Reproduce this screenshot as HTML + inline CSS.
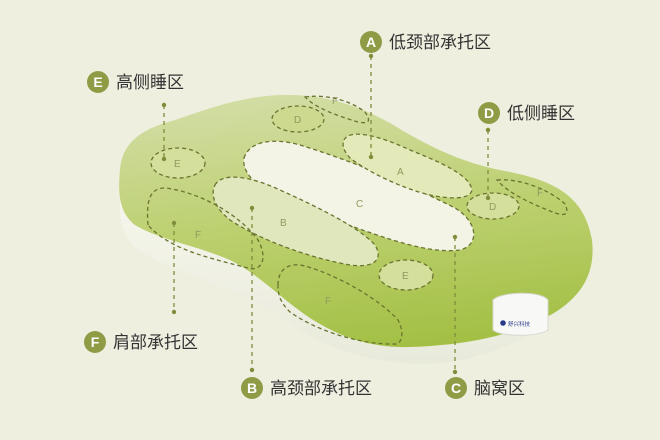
<!DOCTYPE html>
<html><head><meta charset="utf-8"><style>
html,body{margin:0;padding:0;background:#efefe0;}
svg{display:block}
text{font-family:"Liberation Sans","Noto Sans CJK SC",sans-serif;}
</style></head><body>
<svg width="660" height="440" viewBox="0 0 660 440" xmlns="http://www.w3.org/2000/svg">
<defs>
<linearGradient id="g" x1="0.35" y1="0" x2="0.55" y2="1">
<stop offset="0" stop-color="#d2dda4"/>
<stop offset="0.5" stop-color="#bcd06f"/>
<stop offset="1" stop-color="#a3c045"/>
</linearGradient>
<linearGradient id="w" x1="0" y1="0" x2="0" y2="1">
<stop offset="0" stop-color="#f6f6ec"/><stop offset="1" stop-color="#e8eadb"/>
</linearGradient>
</defs>
<rect width="660" height="440" fill="#efefe0"/>
<!-- base -->
<path d="M120 200 C118 240 135 250 160 262 C200 280 240 290 280 318 C320 345 360 362 420 364 C470 364 520 345 560 315 C585 295 592 270 590 250 L120 200 Z" fill="url(#w)"/>
<!-- top -->
<path d="M120 170 C122 140 145 128 175 120 C210 108 240 97 280 95 C330 93 370 110 405 132 C440 152 470 165 510 172 C560 182 585 200 592 240 C596 275 580 300 545 318 C510 335 470 345 410 347 C370 348 340 337 310 318 C280 298 260 275 230 260 C195 245 160 240 135 225 C118 212 118 190 120 170 Z" fill="url(#g)"/>
<!-- tag -->
<path d="M493 300 C500 292 540 290 548 300 L548 330 C540 337 500 337 493 330 Z" fill="#f8f8f6" stroke="#d8d8d0"/>
<circle cx="503" cy="323" r="2.8" fill="#2a3a8a"/>
<text x="508" y="326" font-size="5.5" fill="#2a3a8a">舒兴科技</text>
<!-- zones -->
<g fill="none" stroke="#6a7430" stroke-width="1.3" stroke-dasharray="4 3">
<path d="M244 158 C250 140 275 138 300 145 C350 160 410 185 455 208 C478 222 480 245 460 250 C430 254 390 240 340 222 C290 205 240 185 244 158 Z" fill="#f4f4e6"/>
<path d="M215 185 C222 172 250 176 280 190 C320 208 360 228 375 245 C385 262 370 268 350 265 C310 258 260 240 230 220 C215 208 210 195 215 185 Z" fill="#e0e7bd"/>
<path d="M344 140 C350 128 380 136 410 150 C440 162 470 175 472 190 C470 200 450 199 430 195 C400 188 365 170 350 158 C343 150 342 145 344 140 Z" fill="#e3e9b8"/>
<ellipse cx="298" cy="119" rx="26" ry="13" fill="#ccd98f"/>
<ellipse cx="178" cy="163" rx="27" ry="15" fill="#d5df9c"/>
<ellipse cx="493" cy="206" rx="26" ry="13" fill="#d5df9c"/>
<ellipse cx="406" cy="275" rx="27" ry="15" fill="#d5df9c"/>
<path d="M148 225 C146 200 150 188 165 188 C200 192 240 215 258 240 C268 258 262 272 248 268 C210 258 170 250 148 225 Z"/>
<path d="M278 285 C278 268 290 262 305 266 C340 276 380 300 398 320 C406 335 400 345 395 344 C360 345 315 330 290 312 C280 302 278 295 278 285 Z"/>
<path d="M305 97 C325 94 350 100 365 112 C372 122 368 124 358 122 C338 116 315 108 305 97 Z"/>
<path d="M497 180 C520 178 550 190 565 204 C570 215 565 216 555 213 C535 205 510 195 497 180 Z"/>
</g>
<g font-size="10" fill="#8f9a60">
<text x="294" y="123">D</text><text x="174" y="167">E</text><text x="489" y="210">D</text><text x="402" y="279">E</text>
<text x="397" y="175">A</text><text x="356" y="207">C</text><text x="280" y="226">B</text><text x="195" y="238">F</text><text x="325" y="304">F</text><text x="332" y="104">F</text><text x="537" y="196">F</text>
</g>
<!-- leaders -->
<g stroke="#7f8c3a" stroke-width="1.3" stroke-dasharray="4 4" fill="none">
<line x1="371" y1="56" x2="371" y2="157"/>
<line x1="164" y1="105" x2="164" y2="159"/>
<line x1="488" y1="130" x2="488" y2="198"/>
<line x1="174" y1="223" x2="174" y2="312"/>
<line x1="252" y1="208" x2="252" y2="370"/>
<line x1="455" y1="237" x2="455" y2="372"/>
</g>
<g fill="#7f8c3a">
<circle cx="371" cy="56" r="2.2"/><circle cx="371" cy="157" r="2.2"/>
<circle cx="164" cy="105" r="2.2"/><circle cx="164" cy="159" r="2.2"/>
<circle cx="488" cy="130" r="2.2"/><circle cx="488" cy="198" r="2.2"/>
<circle cx="174" cy="223" r="2.2"/><circle cx="174" cy="312" r="2.2"/>
<circle cx="252" cy="208" r="2.2"/><circle cx="252" cy="370" r="2.2"/>
<circle cx="455" cy="237" r="2.2"/><circle cx="455" cy="372" r="2.2"/>
</g>
<!-- badges -->
<g fill="#8f9c45">
<circle cx="371" cy="42" r="11"/><circle cx="98" cy="82" r="11"/><circle cx="489" cy="113" r="11"/>
<circle cx="95" cy="342" r="11"/><circle cx="252" cy="388" r="11"/><circle cx="456" cy="388" r="11"/>
</g>
<g font-size="14" fill="#fff" text-anchor="middle" font-weight="bold">
<text x="371" y="47">A</text><text x="98" y="87">E</text><text x="489" y="118">D</text>
<text x="95" y="347">F</text><text x="252" y="393">B</text><text x="456" y="393">C</text>
</g>
<g font-size="17" fill="#333">
<text x="389" y="48">低颈部承托区</text>
<text x="116" y="88">高侧睡区</text>
<text x="507" y="119">低侧睡区</text>
<text x="113" y="348">肩部承托区</text>
<text x="270" y="394">高颈部承托区</text>
<text x="474" y="394">脑窝区</text>
</g>
</svg>
</body></html>
